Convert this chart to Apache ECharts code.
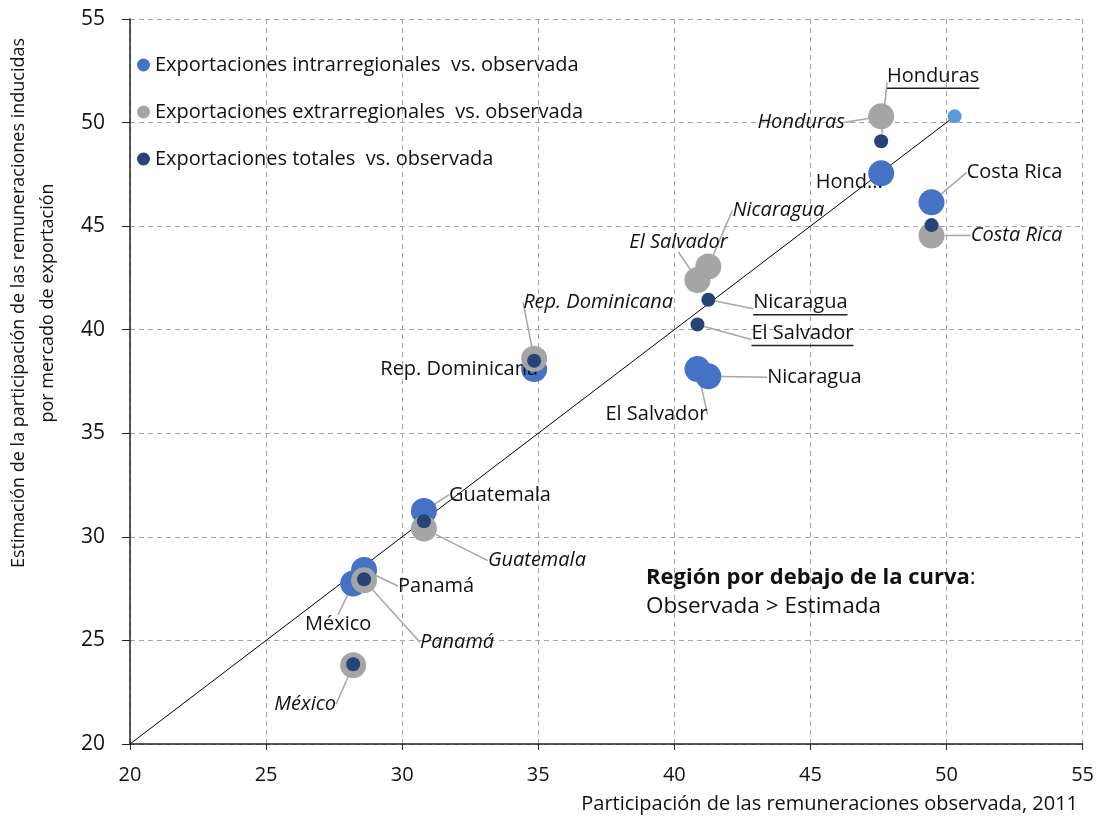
<!DOCTYPE html>
<html><head><meta charset="utf-8">
<script src="https://cdn.jsdelivr.net/npm/echarts@6/dist/echarts.min.js"></script>
<style>html,body{margin:0;padding:0;background:#fff}#c{width:1097px;height:826px}</style>
</head><body><div id="c"></div>
<script>
// ---------- data ----------
const countries = ['Honduras','Costa Rica','Nicaragua','El Salvador','Rep. Dominicana','Guatemala','Panamá','México'];
const observada = [47.6, 49.45, 41.25, 40.85, 34.85, 30.8, 28.6, 28.2];
const intrarregional = [47.55, 46.15, 37.75, 38.1, 38.1, 31.25, 28.4, 27.75];
const extrarregional = [50.3, 44.55, 43.05, 42.4, 38.6, 30.4, 27.9, 23.8];
const totales = [49.1, 45.05, 41.45, 40.25, 38.5, 30.75, 27.95, 23.85];
const intraLabels = ['Hond...','Costa Rica','Nicaragua','El Salvador','Rep. Dominicana','Guatemala','Panamá','México'];
const totalLabels = ['Honduras', null, 'Nicaragua', 'El Salvador', null, null, null, null];
const diagonal = [[20, 20], [50.3, 50.3]];
const axisTicks = [20, 25, 30, 35, 40, 45, 50, 55];
const seriesNames = ['Exportaciones intrarregionales  vs. observada','Exportaciones extrarregionales  vs. observada','Exportaciones totales  vs. observada'];

// ---------- label placement (pixel offsets of label centre from point) ----------
const intraOff = [[-32,9,false],[83,-30,true],[106,1,true],[-41,45,true],[-75,0,false],[76,-16,true],[72,16,true],[-15,41,true]];
const extraOff = [[-80,6,true],[85,0,true],[70,-56,true],[-19,-38,true],[64,-56,true],[113,32,true],[93,62,true],[-48,39,true]];
const totalOff = [[52,-64,true],null,[92,4,true],[105,10,true],null,null,null,null];

const FONT = '"Open Sans", "Noto Sans", sans-serif';
const LBL = 20;
const C_INTRA = '#4472C4', C_EXTRA = '#A5A5A5', C_TOT = '#264478', C_LINE = '#A6A6A6';

const ctx = document.createElement('canvas').getContext('2d');
ctx.font = LBL + 'px ' + FONT;

function mk(vals, labels, italic, underline) {
  return vals.map((v, i) => {
    const item = { name: countries[i], value: [observada[i], v] };
    const lab = labels[i];
    if (lab == null) { item.label = { show: false }; return item; }
    if (underline) {
      const w = ctx.measureText(lab).width;
      item.label = {
        show: true,
        formatter: '{t|' + lab + '}\n{u|}',
        rich: {
          t: { fontSize: LBL, fontFamily: FONT, color: '#111', lineHeight: 22 },
          u: { width: w, height: 1.5, lineHeight: 2, backgroundColor: '#222' }
        }
      };
    } else {
      item.label = { show: true, formatter: lab, fontStyle: italic ? 'italic' : 'normal' };
    }
    return item;
  });
}
function layoutFn(offs) {
  return function (p) {
    const o = offs[p.dataIndex];
    if (!o) return {};
    return { dx: o[0], dy: o[1] };
  };
}
function withLine(data, offs) {
  data.forEach((d, i) => { if (offs[i] && !offs[i][2]) d.labelLine = { show: false }; });
  return data;
}

const baseLabel = { position: 'inside', fontSize: LBL, fontFamily: FONT, color: '#111' };
const baseLine = { show: true, lineStyle: { color: C_LINE, width: 1.5 } };

const chart = echarts.init(document.getElementById('c'), null, { renderer: 'canvas' });
chart.setOption({
  backgroundColor: '#fff',
  animation: false,
  grid: { left: 130, right: 14, top: 19, bottom: 82, containLabel: false },
  legend: {
    left: 132, top: 50, orient: 'vertical', itemGap: 27,
    icon: 'circle', itemWidth: 13, itemHeight: 13,
    textStyle: { fontFamily: FONT, fontSize: 20, color: '#111' },
    data: seriesNames
  },
  xAxis: {
    type: 'value', min: 20, max: 55, interval: 5,
    axisLine: { show: true, onZero: false, lineStyle: { color: '#222', width: 1.5 } },
    axisTick: { show: true, length: 6, lineStyle: { color: '#222' } },
    axisLabel: { fontFamily: FONT, fontSize: 20, color: '#111', margin: 21,
      formatter: v => axisTicks.includes(v) ? String(v) : '' },
    splitLine: { show: true, lineStyle: { color: '#A6A6A6', type: [5, 4], width: 1 } }
  },
  yAxis: {
    type: 'value', min: 20, max: 55, interval: 5,
    axisLine: { show: true, onZero: false, lineStyle: { color: '#222', width: 1.5 } },
    axisTick: { show: true, length: 8, lineStyle: { color: '#222' } },
    axisLabel: { fontFamily: FONT, fontSize: 21, color: '#111', margin: 25,
      formatter: v => axisTicks.includes(v) ? String(v) : '' },
    splitLine: { show: true, lineStyle: { color: '#A6A6A6', type: [5, 4], width: 1 } }
  },
  title: {
    left: 641, top: 558,
    text: '{b|Región por debajo de la curva}{n|:}\n{n|Observada > Estimada}',
    textStyle: {
      fontWeight: 'normal', fontSize: 23, fontFamily: FONT, color: '#111', lineHeight: 29,
      rich: {
        b: { fontFamily: FONT, fontSize: 22, fontWeight: 'bold', color: '#111', lineHeight: 29 },
        n: { fontFamily: FONT, fontSize: 22.5, fontWeight: 'normal', color: '#111', lineHeight: 29 }
      }
    }
  },
  graphic: [
    { type: 'text', x: 33, y: 303, rotation: Math.PI / 2,
      style: { text: 'Estimación de la participación de las remuneraciones inducidas\npor mercado de exportación',
        fill: '#111', font: '18px ' + FONT, align: 'center', verticalAlign: 'middle', lineHeight: 29 } },
    { type: 'text', x: 1078, y: 804,
      style: { text: 'Participación de las remuneraciones observada, 2011',
        fill: '#111', font: '20px ' + FONT, align: 'right', verticalAlign: 'middle' } }
  ],
  series: [
    {
      name: 'diagonal', type: 'line', data: diagonal.map((d, i) => ({ value: d, symbol: i === 0 ? 'none' : 'circle' })),
      symbolSize: 14, showSymbol: true, itemStyle: { color: '#5B9BD5' },
      lineStyle: { color: '#000', width: 1 }, z: 1, silent: true, legendHoverLink: false
    },
    {
      name: seriesNames[0], type: 'scatter', symbolSize: 26, itemStyle: { color: C_INTRA, opacity: 1 },
      data: withLine(mk(intrarregional, intraLabels, false, false), intraOff),
      label: Object.assign({ show: true }, baseLabel), labelLine: baseLine, labelLayout: layoutFn(intraOff), z: 2
    },
    {
      name: seriesNames[1], type: 'scatter', symbolSize: 26, itemStyle: { color: C_EXTRA, opacity: 1 },
      data: withLine(mk(extrarregional, countries, true, false), extraOff),
      label: Object.assign({ show: true }, baseLabel), labelLine: baseLine, labelLayout: layoutFn(extraOff), z: 3
    },
    {
      name: seriesNames[2], type: 'scatter', symbolSize: 14, itemStyle: { color: C_TOT, opacity: 1 },
      data: withLine(mk(totales, totalLabels, false, true), totalOff),
      label: Object.assign({ show: true }, baseLabel), labelLine: baseLine, labelLayout: layoutFn(totalOff), z: 4
    }
  ]
});
</script></body></html>
